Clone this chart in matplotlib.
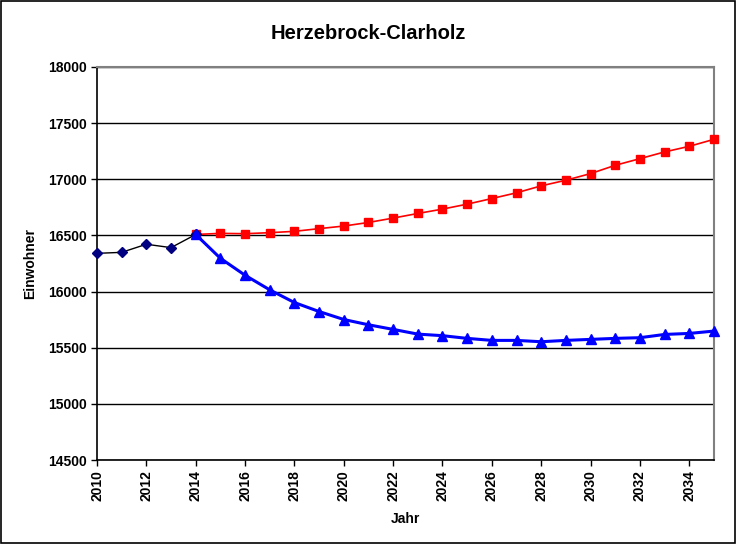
import matplotlib
matplotlib.use("Agg")
import matplotlib.pyplot as plt
from matplotlib.patches import Rectangle

plt.rcParams['font.family'] = ['Liberation Sans', 'DejaVu Sans']

hist_years = [2010, 2011, 2012, 2013, 2014]
hist_vals = [16340, 16349, 16421, 16391, 16508]

proj_years = list(range(2014, 2036))
red_vals = [16508, 16518, 16515, 16524, 16536, 16560, 16583, 16615, 16654, 16695,
            16734, 16778, 16828, 16879, 16941, 16991, 17050, 17124, 17183, 17243,
            17293, 17355]
blue_vals = [16508, 16296, 16145, 16015, 15902, 15822, 15751, 15704, 15663, 15621,
             15607, 15583, 15565, 15565, 15553, 15565, 15574, 15583, 15589, 15618,
             15627, 15648]

title = "Herzebrock-Clarholz"
xlabel = "Jahr"
ylabel = "Einwohner"
xticks = list(range(2010, 2035, 2))
yticks = list(range(14500, 18001, 500))

fig = plt.figure(figsize=(7.36, 5.44), dpi=100)
ax = fig.add_axes([0.1318, 0.1544, 0.970 - 0.1318, 0.877 - 0.1544])

fig.patches.append(Rectangle((0.002, 0.002), 0.996, 0.996, transform=fig.transFigure,
                             fill=False, edgecolor='black', linewidth=1.2))

for y in yticks:
    ax.axhline(y, color='black', linewidth=1.0, zorder=1)

ax.plot(proj_years, red_vals, color='#ff0000', linewidth=1.2, marker='s',
        markersize=5.5, markerfacecolor='#ff0000', markeredgecolor='#ff0000', zorder=3,
        clip_on=False)
ax.plot(hist_years, hist_vals, color='black', linewidth=1.0, marker='D',
        markersize=5, markerfacecolor='#000080', markeredgecolor='#000080', zorder=3,
        clip_on=False)
ax.plot(proj_years, blue_vals, color='#0000ff', linewidth=2.2, marker='^',
        markersize=7, markerfacecolor='#0000ff', markeredgecolor='#0000ff', zorder=4,
        clip_on=False)

ax.set_xlim(2010, 2035)
ax.set_ylim(14500, 18000)
ax.set_xticks(xticks)
ax.set_xticklabels([str(x) for x in xticks], rotation=90, fontsize=10, fontweight='bold')
ax.set_yticks(yticks)
ax.set_yticklabels([str(y) for y in yticks], fontsize=10, fontweight='bold')
ax.tick_params(direction='out', length=4, width=1, color='black')

for s in ['left', 'bottom']:
    ax.spines[s].set_color('black')
    ax.spines[s].set_linewidth(1.2)
for s in ['top', 'right']:
    ax.spines[s].set_color('#808080')
    ax.spines[s].set_linewidth(1.5)

ax.set_xlabel(xlabel, fontsize=10, fontweight='bold', labelpad=8)
ax.set_ylabel(ylabel, fontsize=10, fontweight='bold', labelpad=8)
fig.text(0.5, 0.938, title, ha='center', va='center', fontsize=14.5, fontweight='bold')

fig.savefig("out.png", dpi=100)
